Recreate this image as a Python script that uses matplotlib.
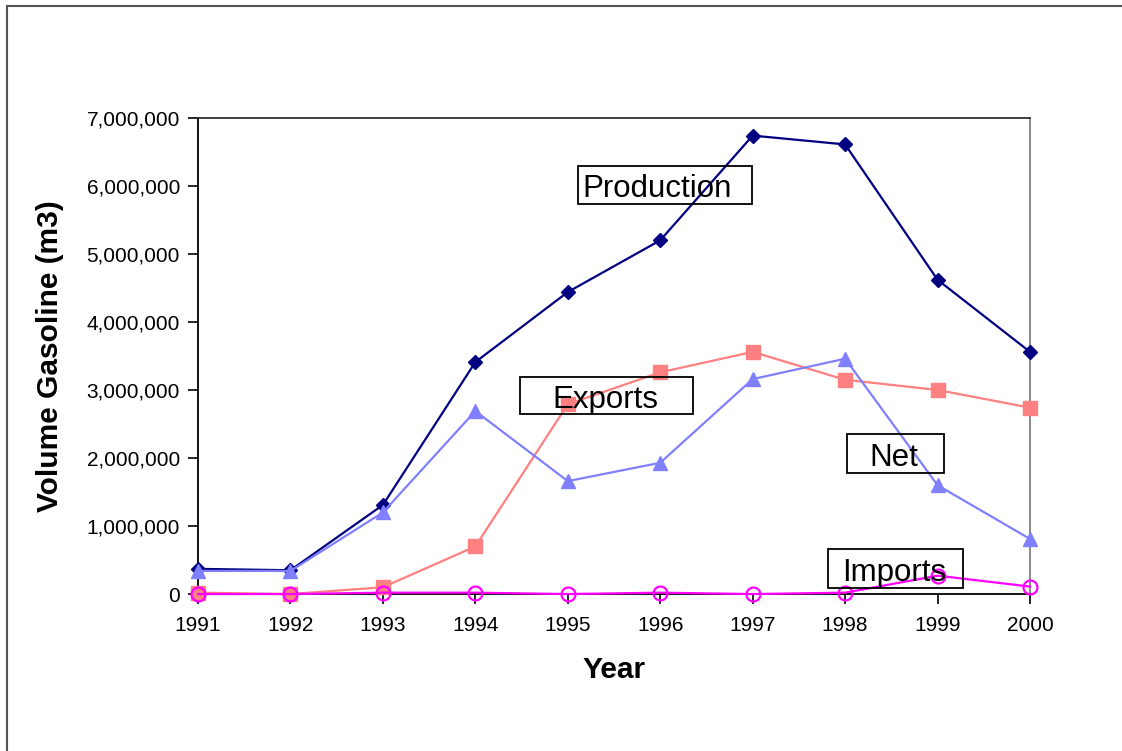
import matplotlib
matplotlib.use("Agg")
import matplotlib.pyplot as plt
import matplotlib.patches as patches
from matplotlib.ticker import FuncFormatter, MultipleLocator

plt.rcParams['font.family'] = ['Liberation Sans', 'DejaVu Sans']

# Data
years = [1991, 1992, 1993, 1994, 1995, 1996, 1997, 1998, 1999, 2000]
production = [370000, 350000, 1310000, 3410000, 4440000, 5200000, 6740000, 6610000, 4620000, 3560000]
exports = [20000, 0, 100000, 700000, 2790000, 3260000, 3560000, 3150000, 3000000, 2740000]
net = [340000, 340000, 1200000, 2690000, 1660000, 1930000, 3160000, 3460000, 1600000, 810000]
imports = [0, 0, 20000, 20000, 0, 20000, 0, 20000, 270000, 110000]

# Boxed series labels: text position, box corners (x0, x1, y0, y1)
label_names = ["Production", "Exports", "Net", "Imports"]
label_text_pos = [(1995.97, 5950000), (1995.41, 2850000), (1998.53, 2000000), (1998.53, 310000)]
label_boxes = [(1995.11, 1996.99, 5735000, 6294000),
               (1994.48, 1996.355, 2647000, 3190000),
               (1998.02, 1999.07, 1780000, 2353000),
               (1997.815, 1999.275, 88000, 662000)]

fig = plt.figure(figsize=(11.22, 7.51), dpi=100)
ax = fig.add_axes([0.1765, 0.209, 0.7415, 0.634])

# outer chart border
fig.patches.append(patches.Rectangle((0.0065, -0.1), 1.2, 1.092, transform=fig.transFigure,
                                     fill=False, edgecolor='#555555', linewidth=1.5))

ax.plot(years, production, color='#000080', marker='D', markersize=7.5, linewidth=1.6, clip_on=False, zorder=3)
ax.plot(years, exports, color='#FF8080', marker='s', markersize=9.5, linewidth=1.6, clip_on=False, zorder=4)
ax.plot(years, net, color='#8080FF', marker='^', markersize=9.5, linewidth=1.6, clip_on=False, zorder=5)
ax.plot(years, imports, color='#FF00FF', marker='o', markersize=10, markerfacecolor='none',
        markeredgewidth=1.6, linewidth=1.6, clip_on=False, zorder=6)

for name, (tx, ty), (x0, x1, y0, y1) in zip(label_names, label_text_pos, label_boxes):
    ax.add_patch(patches.Rectangle((x0, y0), x1 - x0, y1 - y0, fill=False,
                                   edgecolor='black', linewidth=1.3, zorder=7, clip_on=False))
    ax.text(tx, ty, name, fontsize=22.5, ha='center', va='center', zorder=8)

ax.set_xlim(1991, 2000)
ax.set_ylim(0, 7000000)
ax.set_xticks(years)
ax.set_xticklabels([str(y) for y in years])
ax.yaxis.set_major_locator(MultipleLocator(1000000))
ax.yaxis.set_major_formatter(FuncFormatter(lambda v, p: f"{int(v):,}"))
ax.tick_params(axis='both', direction='out', length=7, width=1.2, labelsize=15, pad=6)
ax.tick_params(axis='x', pad=9)

ax.spines['left'].set_color('black')
ax.spines['bottom'].set_color('black')
ax.spines['top'].set_color('#333333')
ax.spines['right'].set_color('#808080')
for s in ax.spines.values():
    s.set_linewidth(1.3)

ax.set_ylabel("Volume Gasoline (m3)", fontsize=21.5, fontweight='bold', labelpad=16)
ax.set_xlabel("Year", fontsize=21.5, fontweight='bold', labelpad=15)

fig.savefig("out.png", dpi=100)
